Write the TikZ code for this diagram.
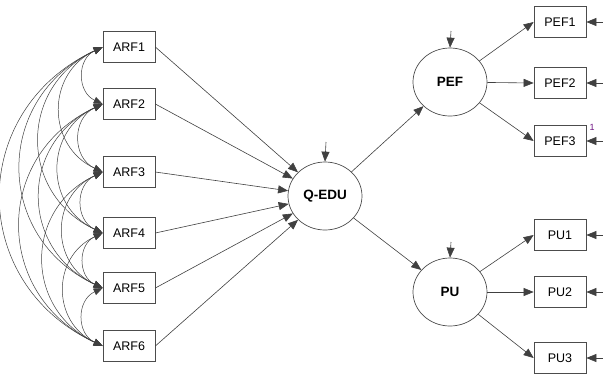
\documentclass[tikz,border=0pt]{standalone}
\usepackage{fontspec}
\setmainfont{Liberation Sans}
\usetikzlibrary{arrows.meta,shapes.geometric}
\begin{document}
\begin{tikzpicture}[x=1pt,y=-1pt,
 obs/.style={draw=black!70, line width=0.7pt, minimum width=52pt, minimum height=31pt, inner sep=0pt, font=\fontsize{12.5}{14}\selectfont},
 lat/.style={ellipse, draw=black!70, line width=0.7pt, minimum width=74pt, minimum height=68pt, inner sep=0pt, font=\fontsize{13.5}{15}\selectfont\bfseries},
 reg/.style={draw=black!75, line width=0.6pt, -{Triangle[length=10pt,width=8pt]}},
 cov/.style={draw=black!75, line width=0.5pt, {Triangle[length=9pt,width=7pt]}-{Triangle[length=9pt,width=7pt]}, bend right=65, looseness=1.28},
 onelbl/.style={text={rgb,255:red,110;green,20;blue,130}, font=\fontsize{9}{10}\selectfont, inner sep=0pt}
]
\useasboundingbox (0,0) rectangle (603,373);
% observed exogenous
\node[obs] (a1) at (129,47) {ARF1};
\node[obs] (a2) at (129,104) {ARF2};
\node[obs] (a3) at (129,172) {ARF3};
\node[obs] (a4) at (129,233) {ARF4};
\node[obs] (a5) at (129,288) {ARF5};
\node[obs] (a6) at (129,346) {ARF6};
% latent
\node[lat] (Q) at (325,196) {Q-EDU};
\node[lat] (PEF) at (450,82) {PEF};
\node[lat] (PU) at (450,292) {PU};
% indicators
\node[obs] (p1) at (560,22) {PEF1};
\node[obs] (p2) at (560,83) {PEF2};
\node[obs] (p3) at (560,141) {PEF3};
\node[obs] (u1) at (560,235) {PU1};
\node[obs] (u2) at (560,292) {PU2};
\node[obs] (u3) at (560,358) {PU3};
\node[onelbl] (one) at (592,127) {1};
% error coordinates
\coordinate (eQ) at (326,142);
\coordinate (ePEF) at (451,31);
\coordinate (ePU) at (451,242);
\coordinate (ep1) at (604,22);
\coordinate (ep2) at (604,83);
\coordinate (ep3) at (604,141);
\coordinate (eu1) at (604,235);
\coordinate (eu2) at (604,292);
\coordinate (eu3) at (604,358);
% covariances
\foreach \i/\j in {1/2,1/3,1/4,1/5,1/6,2/3,2/4,2/5,2/6,3/4,3/5,3/6,4/5,4/6,5/6}
  \draw[cov] (a\i.west) to (a\j.west);
% regressions
\foreach \i in {1,...,6}
  \draw[reg] (a\i.east) -- (Q);
\draw[reg] (Q) -- (PEF);
\draw[reg] (Q) -- (PU);
\draw[reg] (PEF) -- (p1.west);
\draw[reg] (PEF) -- (p2.west);
\draw[reg] (PEF) -- (p3.west);
\draw[reg] (PU) -- (u1.west);
\draw[reg] (PU) -- (u2.west);
\draw[reg] (PU) -- (u3.west);
% errors
\draw[reg] (eQ) -- (Q.north);
\draw[reg] (ePEF) -- (PEF.north);
\draw[reg] (ePU) -- (PU.north);
\draw[reg] (ep1) -- (p1.east);
\draw[reg] (ep2) -- (p2.east);
\draw[reg] (ep3) -- (p3.east);
\draw[reg] (eu1) -- (u1.east);
\draw[reg] (eu2) -- (u2.east);
\draw[reg] (eu3) -- (u3.east);
\end{tikzpicture}
\end{document}
